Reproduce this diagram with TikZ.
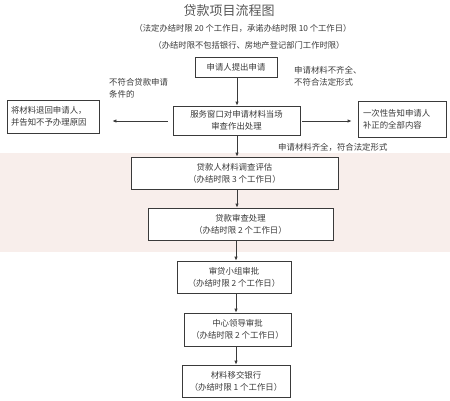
\documentclass[tikz,border=0pt]{standalone}
\usepackage{fontspec}
\newfontfamily\cjk{Noto Sans CJK SC}
\usetikzlibrary{arrows.meta}
\definecolor{ink}{HTML}{3A3A3A}
\definecolor{band}{HTML}{F8EEEB}
\tikzset{
  box/.style={draw=ink, line width=0.8pt, fill=white, inner sep=0pt, align=center, font=\cjk\fontsize{8.4}{12}\selectfont, text=ink},
  lbl/.style={font=\cjk\fontsize{8.4}{12}\selectfont, text=ink, align=left, inner sep=0pt},
  arr/.style={draw=ink, line width=0.8pt, -{Latex[length=4pt,width=3.5pt]}}
}
\begin{document}
\begin{tikzpicture}[x=1pt,y=-1pt]
\useasboundingbox (0,0) rectangle (450,400);
\fill[white] (0,0) rectangle (450,400);
\fill[band] (0,153) rectangle (450,252);
% titles
\node[font=\cjk\fontsize{13}{15}\selectfont, text=ink!85] (title) at (229,11) {贷款项目流程图};
\node[font=\cjk\fontsize{8.3}{10}\selectfont, text=ink] (sub1) at (243,28) {（法定办结时限 20 个工作日，承诺办结时限 10 个工作日）};
\node[font=\cjk\fontsize{8.3}{10}\selectfont, text=ink] (sub2) at (249,45) {（办结时限不包括银行、房地产登记部门工作时限）};
% boxes
\node[box, minimum width=82, minimum height=20] (A) at (236,67) {申请人提出申请};
\node[box, minimum width=127, minimum height=29] (B) at (236.5,120.5) {服务窗口对申请材料当场\\审查作出处理};
\node[box, minimum width=92, minimum height=33, align=left, text width=84] (C) at (53,116.5) {将材料退回申请人，\\并告知不予办理原因};
\node[box, minimum width=88, minimum height=36, align=left, text width=78] (D) at (402,119) {一次性告知申请人\\补正的全部内容};
\node[box, minimum width=207, minimum height=32] (E) at (234.5,173) {贷款人材料调查评估\\（办结时限 3 个工作日）};
\node[box, minimum width=185, minimum height=32] (F) at (240.5,224) {贷款审查处理\\（办结时限 2 个工作日）};
\node[box, minimum width=114, minimum height=32] (G) at (234,277) {审贷小组审批\\（办结时限 2 个工作日）};
\node[box, minimum width=107, minimum height=33] (H) at (237.5,329.5) {中心领导审批\\（办结时限 2 个工作日）};
\node[box, minimum width=108, minimum height=32] (I) at (236,381) {材料移交银行\\（办结时限 1 个工作日）};
% labels
\node[lbl, anchor=north west] (L1) at (109,78) {不符合贷款申请\\条件的};
\node[lbl, anchor=north west] (L2) at (294,66) {申请材料不齐全、\\不符合法定形式};
\node[lbl, anchor=west] (L3) at (278,147) {申请材料齐全，符合法定形式};
% arrows
\draw[arr] (A.south -| 237,0) -- (B.north -| 237,0);
\draw[arr, shorten <=5pt, shorten >=13pt] (B.west |- 0,121) -- (C.east |- 0,121);
\draw[arr, shorten <=2pt, shorten >=6pt] (B.east |- 0,121) -- (D.west |- 0,121);
\draw[arr] (B.south -| 237,0) -- (E.north -| 237,0);
\draw[arr] (E.south -| 237,0) -- (F.north -| 237,0);
\draw[arr] (F.south -| 236,0) -- (G.north -| 236,0);
\draw[arr] (G.south -| 236,0) -- (H.north -| 236,0);
\draw[arr] (H.south -| 236,0) -- (I.north -| 236,0);
\end{tikzpicture}
\end{document}
